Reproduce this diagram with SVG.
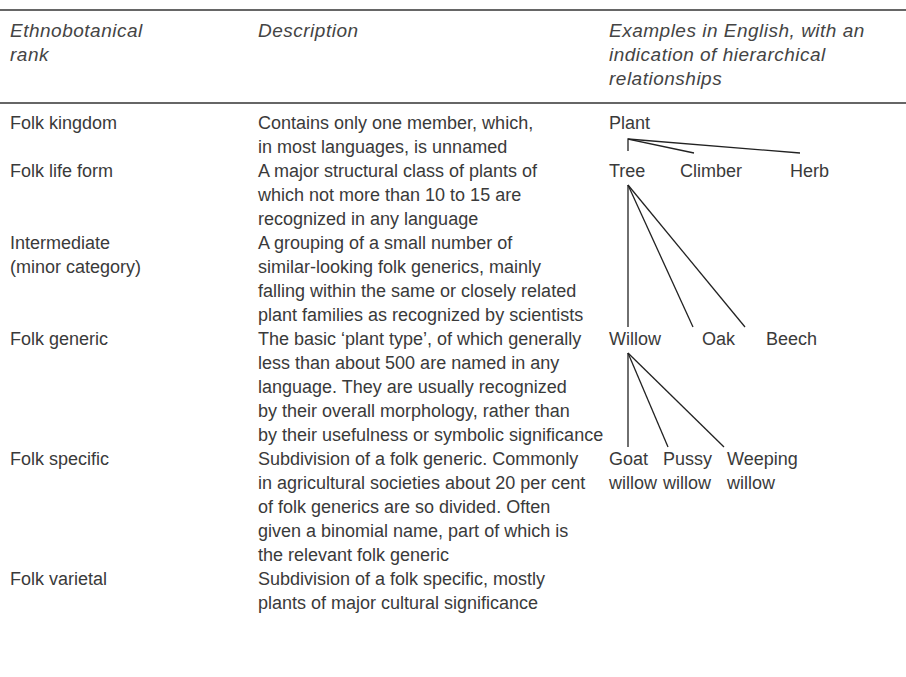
<svg xmlns="http://www.w3.org/2000/svg" width="906" height="677" viewBox="0 0 906 677">
  <style>
    text { font-family: "Liberation Sans", Arial, sans-serif; font-size: 18px; fill: #3a3a3a; }
    .hd { font-style: italic; font-size: 19px; letter-spacing: 0.5px; fill: #444; }
    .rule { stroke: #333; stroke-width: 1.5; }
    .link { stroke: #222; stroke-width: 1.3; fill: none; }
  </style>
  <rect width="906" height="677" fill="#fff"/>

  <!-- table rules -->
  <line class="rule" x1="0" y1="10" x2="906" y2="10"/>
  <line class="rule" x1="0" y1="103" x2="906" y2="103"/>

  <!-- header -->
  <g id="header">
    <text class="hd" x="10" y="37">Ethnobotanical</text>
    <text class="hd" x="10" y="61">rank</text>
    <text class="hd" x="258" y="37">Description</text>
    <text class="hd" x="609" y="37">Examples in English, with an</text>
    <text class="hd" x="609" y="61">indication of hierarchical</text>
    <text class="hd" x="609" y="85">relationships</text>
  </g>

  <!-- rank column -->
  <g id="ranks">
    <text x="10" y="129">Folk kingdom</text>
    <text x="10" y="177">Folk life form</text>
    <text x="10" y="249">Intermediate</text>
    <text x="10" y="273">(minor category)</text>
    <text x="10" y="345">Folk generic</text>
    <text x="10" y="465">Folk specific</text>
    <text x="10" y="585">Folk varietal</text>
  </g>

  <!-- description column -->
  <g id="descriptions">
    <text x="258" y="129">Contains only one member, which,</text>
    <text x="258" y="153">in most languages, is unnamed</text>
    <text x="258" y="177">A major structural class of plants of</text>
    <text x="258" y="201">which not more than 10 to 15 are</text>
    <text x="258" y="225">recognized in any language</text>
    <text x="258" y="249">A grouping of a small number of</text>
    <text x="258" y="273">similar-looking folk generics, mainly</text>
    <text x="258" y="297">falling within the same or closely related</text>
    <text x="258" y="321">plant families as recognized by scientists</text>
    <text x="258" y="345">The basic ‘plant type’, of which generally</text>
    <text x="258" y="369">less than about 500 are named in any</text>
    <text x="258" y="393">language. They are usually recognized</text>
    <text x="258" y="417">by their overall morphology, rather than</text>
    <text x="258" y="441">by their usefulness or symbolic significance</text>
    <text x="258" y="465">Subdivision of a folk generic. Commonly</text>
    <text x="258" y="489">in agricultural societies about 20 per cent</text>
    <text x="258" y="513">of folk generics are so divided. Often</text>
    <text x="258" y="537">given a binomial name, part of which is</text>
    <text x="258" y="561">the relevant folk generic</text>
    <text x="258" y="585">Subdivision of a folk specific, mostly</text>
    <text x="258" y="609">plants of major cultural significance</text>
  </g>

  <!-- hierarchy connectors -->
  <g id="connectors">
    <path class="link" d="M628,151 V139 L694,153"/>
    <path class="link" d="M628,139 L800,153"/>
    <path class="link" d="M628,185 V327"/>
    <path class="link" d="M628,185 L693,327"/>
    <path class="link" d="M628,185 L745,327"/>
    <path class="link" d="M628,353 V447"/>
    <path class="link" d="M628,353 L668,447"/>
    <path class="link" d="M628,353 L724,447"/>
  </g>

  <!-- hierarchy nodes -->
  <g id="plant"><text x="609" y="129">Plant</text></g>
  <g id="tree"><text x="609" y="177">Tree</text></g>
  <g id="climber"><text x="680" y="177">Climber</text></g>
  <g id="herb"><text x="790" y="177">Herb</text></g>
  <g id="willow"><text x="609" y="345">Willow</text></g>
  <g id="oak"><text x="702" y="345">Oak</text></g>
  <g id="beech"><text x="766" y="345">Beech</text></g>
  <g id="goat-willow"><text x="609" y="465">Goat</text><text x="609" y="489">willow</text></g>
  <g id="pussy-willow"><text x="663" y="465">Pussy</text><text x="663" y="489">willow</text></g>
  <g id="weeping-willow"><text x="727" y="465">Weeping</text><text x="727" y="489">willow</text></g>
</svg>
